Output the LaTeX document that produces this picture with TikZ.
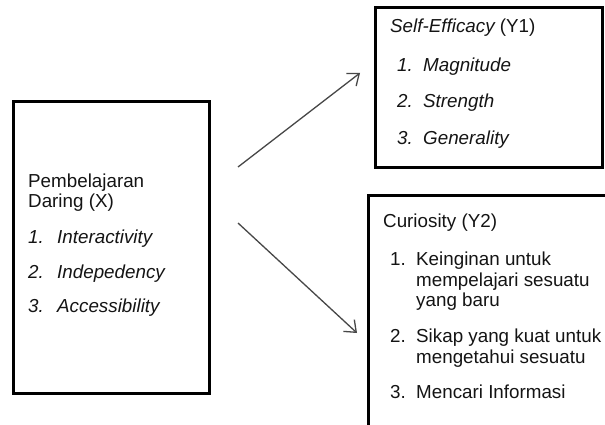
\documentclass[tikz,border=0pt]{standalone}
\usepackage{fontspec}
\setmainfont{Liberation Sans}
\usetikzlibrary{arrows.meta}
\begin{document}
\begin{tikzpicture}[x=1pt,y=-1pt,
  box/.style={draw=black, line width=3pt, anchor=north west, inner sep=0pt, outer sep=0pt},
  txt/.style={anchor=base west, inner sep=0pt, text=black!92, font=\fontsize{18.8}{20}\selectfont},
  conn/.style={draw=black!72, line width=1.3pt, -{Straight Barb[length=10pt, width=16pt, line width=1.3pt]}}]
\clip (0,0) rectangle (605,425);
\fill[white] (0,0) rectangle (605,425);
% boxes
\node[box, minimum width=196pt, minimum height=291pt] (X) at (13,102) {};
\node[box, minimum width=227pt, minimum height=159pt] (Y1) at (375,8) {};
\node[box, minimum width=300pt, minimum height=300pt] (Y2) at (368,195) {};
% left box text
\node[txt] (x0) at (28,187) {Pembelajaran};
\node[txt] (x0b) at (28,207) {Daring (X)};
\node[txt] (x1n) at (28,243) {\itshape 1.};
\node[txt] (x1) at (57,243) {\itshape Interactivity};
\node[txt] (x2n) at (28,278) {\itshape 2.};
\node[txt] (x2) at (57,278) {\itshape Indepedency};
\node[txt] (x3n) at (28,312) {\itshape 3.};
\node[txt] (x3) at (57,312) {\itshape Accessibility};
% top right text
\node[txt] (y10) at (390,33) {\itshape Self-Efficacy\upshape\ (Y1)};
\node[txt] (y11n) at (397,72) {\itshape 1.};
\node[txt] (y11) at (423,72) {\itshape Magnitude};
\node[txt] (y12n) at (397,108) {\itshape 2.};
\node[txt] (y12) at (423,108) {\itshape Strength};
\node[txt] (y13n) at (397,145) {\itshape 3.};
\node[txt] (y13) at (423,145) {\itshape Generality};
% bottom right text
\node[txt] (y20) at (383,227) {Curiosity (Y2)};
\node[txt] (y21n) at (390,265) {1.};
\node[txt] (y21a) at (416,265) {Keinginan untuk};
\node[txt] (y21b) at (416,286) {mempelajari sesuatu};
\node[txt] (y21c) at (416,306) {yang baru};
\node[txt] (y22n) at (390,342) {2.};
\node[txt] (y22a) at (416,342) {Sikap yang kuat untuk};
\node[txt] (y22b) at (416,363) {mengetahui sesuatu};
\node[txt] (y23n) at (390,398) {3.};
\node[txt] (y23) at (416,398) {Mencari Informasi};
% connectors
\coordinate (a1s) at (238,167);
\coordinate (a1e) at (360,73);
\coordinate (a2s) at (238,223);
\coordinate (a2e) at (357,333);
\draw[conn] (a1s) -- (a1e);
\draw[conn] (a2s) -- (a2e);
\end{tikzpicture}
\end{document}
